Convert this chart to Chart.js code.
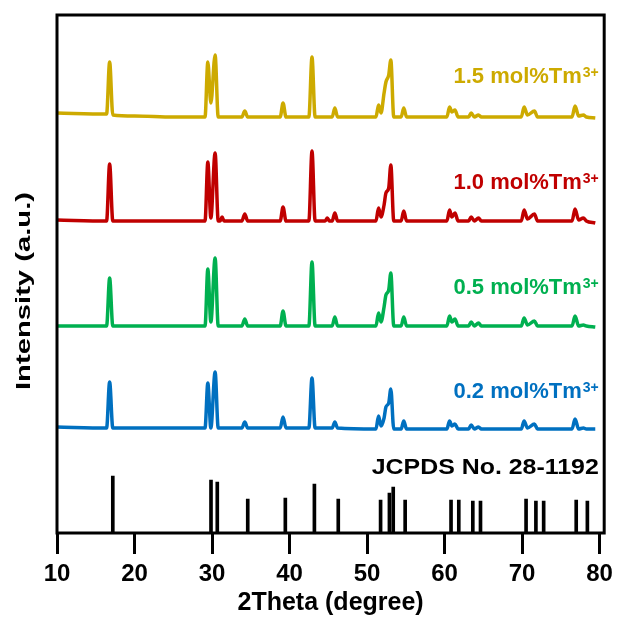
<!DOCTYPE html>
<html>
<head>
<meta charset="utf-8">
<script src="https://cdn.jsdelivr.net/npm/chart.js"></script>
<style>
    body { margin: 0; background: #FFFFFF; }
    .chart-container { width: 619px; height: 631px; }
</style>
</head>
<body>
<div class="chart-container">
    <canvas id="graficaXRD" width="619" height="631"></canvas>
</div>
<script>
// Eje 2Theta comun a los cuatro difractogramas (grados)
const twoTheta = [10.0, 16.4, 16.79, 17.2, 20.0, 25.0,
    29.1, 29.46, 29.85, 30.4, 30.8, 31.05, 31.3, 31.55,
    33.85, 34.23, 34.6, 38.8, 39.16, 39.55,
    42.5, 42.9, 43.3, 44.6, 44.88, 45.15, 45.5, 45.85, 46.2,
    51.15, 51.49, 51.8, 52.2, 52.44, 52.8, 53.07, 53.45,
    54.4, 54.74, 55.1,
    60.3, 60.65, 60.95, 61.35, 61.75,
    63.1, 63.44, 63.85, 64.38, 64.75,
    69.9, 70.27, 70.7, 71.6, 72.0,
    76.45, 76.84, 77.3, 77.91, 78.3, 79.45];

// Intensidades (u.a.), ya desplazadas verticalmente
const tm15 = [420, 419, 471, 418, 417, 416,
    416, 471, 430, 478, 416, 416, 416, 416,
    416, 422, 416, 416, 430, 416,
    416, 476, 416, 416, 416, 416, 416, 425, 416,
    416, 428, 420, 440, 451, 458, 473, 416,
    416, 425, 416,
    416, 426, 421, 423, 416,
    416, 420, 416, 418, 416,
    416, 426, 418, 422, 416,
    416, 427, 417, 418, 416, 415];

const tm10 = [313, 312, 369, 312, 312, 312,
    312, 371, 315, 380, 312, 312, 316, 312,
    312, 319, 312, 312, 326, 312,
    312, 382, 312, 312, 315, 312, 312, 320, 312,
    312, 325, 316, 328, 340, 345, 368, 312,
    312, 322, 312,
    312, 323, 316, 320, 312,
    312, 316, 312, 315, 312,
    312, 323, 314, 319, 312,
    312, 324, 313, 315, 312, 310];

const tm05 = [207, 207, 255, 207, 207, 207,
    207, 264, 211, 275, 207, 207, 207, 207,
    207, 214, 207, 207, 222, 207,
    207, 271, 207, 207, 207, 207, 207, 216, 207,
    207, 220, 211, 226, 238, 243, 260, 207,
    207, 216, 207,
    207, 217, 211, 214, 207,
    207, 211, 207, 210, 207,
    207, 215, 208, 212, 207,
    207, 217, 207, 208, 207, 206];

const tm02 = [106, 105, 151, 105, 105, 105,
    105, 150, 105, 161, 105, 105, 105, 105,
    105, 111, 105, 105, 116, 105,
    105, 155, 105, 105, 105, 105, 105, 111, 105,
    104, 117, 107, 115, 126, 130, 144, 104,
    104, 112, 104,
    104, 112, 107, 109, 104,
    104, 108, 104, 106, 104,
    104, 112, 105, 109, 104,
    104, 114, 104, 105, 104, 104];

// Patron de referencia JCPDS No. 28-1192
const jcpdsTheta = [17.20, 29.87, 30.68, 34.61, 39.46, 43.21, 46.29, 51.75, 52.89, 53.38,
    54.92, 60.84, 61.84, 63.65, 64.64, 70.52, 71.79, 72.79, 76.99, 78.43];
const jcpdsAltura = [57, 53, 51, 34, 35, 49, 34, 33, 40, 46,
    33, 33, 33, 32, 32, 34, 32, 32, 33, 32];

const ticksX = [10, 20, 30, 40, 50, 60, 70, 80];
const nombresSeries = ['1.5 mol%Tm', '1.0 mol%Tm', '0.5 mol%Tm', '0.2 mol%Tm'];

const FUENTE = '"Liberation Sans", Arial, sans-serif';

// Etiquetas de cada curva (nivel = altura de la linea base del texto)
const etiquetas = [
    { texto: nombresSeries[0], color: '#CDAA00', nivel: 450 },
    { texto: nombresSeries[1], color: '#C00000', nivel: 344 },
    { texto: nombresSeries[2], color: '#00B050', nivel: 239 },
    { texto: nombresSeries[3], color: '#0070C0', nivel: 135 }
];

function serie(valores) {
    return twoTheta.map((x, i) => ({ x: x, y: valores[i] }));
}

function textoEstirado(ctx, texto, ancho) {
    const w = ctx.measureText(texto).width;
    ctx.scale(ancho / w, 1);
    ctx.fillText(texto, 0, 0);
}

const marcoPlugin = {
    id: 'marco',
    afterDatasetsDraw(chart) {
        const { ctx, chartArea: a, scales: { x, y } } = chart;
        ctx.save();

        // Marco del grafico
        ctx.strokeStyle = '#000000';
        ctx.lineWidth = 3;
        ctx.strokeRect(a.left, a.top, a.right - a.left, a.bottom - a.top);

        // Etiquetas de las muestras
        const xFin = x.getPixelForValue(79.9);
        etiquetas.forEach(et => {
            const yBase = y.getPixelForValue(et.nivel);
            ctx.fillStyle = et.color;
            ctx.textAlign = 'left';
            ctx.textBaseline = 'alphabetic';
            ctx.font = 'bold 14px ' + FUENTE;
            const wSup = ctx.measureText('3+').width;
            ctx.font = 'bold 22px ' + FUENTE;
            const wTxt = ctx.measureText(et.texto).width;
            ctx.fillText(et.texto, xFin - wSup - wTxt - 1, yBase);
            ctx.font = 'bold 14px ' + FUENTE;
            ctx.fillText('3+', xFin - wSup, yBase - 6);
        });

        // Etiqueta del patron
        ctx.fillStyle = '#000000';
        ctx.font = 'bold 22px ' + FUENTE;
        ctx.save();
        ctx.translate(xFin - 227, y.getPixelForValue(59));
        textoEstirado(ctx, 'JCPDS No. 28-1192', 227);
        ctx.restore();

        // Titulo del eje Y
        ctx.font = 'bold 20px ' + FUENTE;
        ctx.textAlign = 'center';
        ctx.translate(29.5, (a.top + a.bottom) / 2 + 17);
        ctx.rotate(-Math.PI / 2);
        const wY = ctx.measureText('Intensity (a.u.)').width;
        ctx.scale(198 / wY, 1);
        ctx.fillText('Intensity (a.u.)', 0, 0);

        ctx.restore();
    }
};

let chartInstance = null;

function crearGrafica() {
    const ctx = document.getElementById('graficaXRD').getContext('2d');

    const colores = ['#CDAA00', '#C00000', '#00B050', '#0070C0'];
    const datos = [tm15, tm10, tm05, tm02];

    const datasets = datos.map((d, i) => ({
        type: 'line',
        label: nombresSeries[i],
        data: serie(d),
        borderColor: colores[i],
        borderWidth: 3.5,
        pointRadius: 0,
        cubicInterpolationMode: 'monotone',
        borderJoinStyle: 'round',
        fill: false
    }));

    datasets.push({
        type: 'bar',
        label: 'JCPDS No. 28-1192',
        data: jcpdsTheta.map((x, i) => ({ x: x, y: jcpdsAltura[i] })),
        backgroundColor: '#000000',
        barThickness: 3
    });

    chartInstance = new Chart(ctx, {
        type: 'line',
        data: { datasets: datasets },
        options: {
            responsive: false,
            animation: false,
            layout: {
                padding: { left: 57, right: 13, top: 15, bottom: 0 }
            },
            plugins: {
                legend: { display: false },
                title: { display: false },
                tooltip: { enabled: false }
            },
            scales: {
                x: {
                    type: 'linear',
                    min: 10,
                    max: 80.6,
                    offset: false,
                    afterFit: (escala) => { escala.height = 98; },
                    afterBuildTicks: (escala) => {
                        escala.ticks = ticksX.map(v => ({ value: v }));
                    },
                    grid: {
                        offset: false,
                        drawOnChartArea: false,
                        drawTicks: true,
                        tickLength: 21,
                        tickWidth: 3,
                        tickColor: '#000000'
                    },
                    border: { display: false },
                    ticks: {
                        color: '#000000',
                        padding: 6,
                        maxRotation: 0,
                        autoSkip: false,
                        font: { family: FUENTE, size: 24, weight: 'bold' }
                    },
                    title: {
                        display: true,
                        text: '2Theta (degree)',
                        color: '#000000',
                        padding: { top: 0, bottom: 13 },
                        font: { family: FUENTE, size: 25, weight: 'bold' }
                    }
                },
                y: {
                    display: false,
                    min: 0,
                    max: 518
                }
            }
        },
        plugins: [marcoPlugin]
    });
}

document.addEventListener('DOMContentLoaded', crearGrafica);
</script>
</body>
</html>
